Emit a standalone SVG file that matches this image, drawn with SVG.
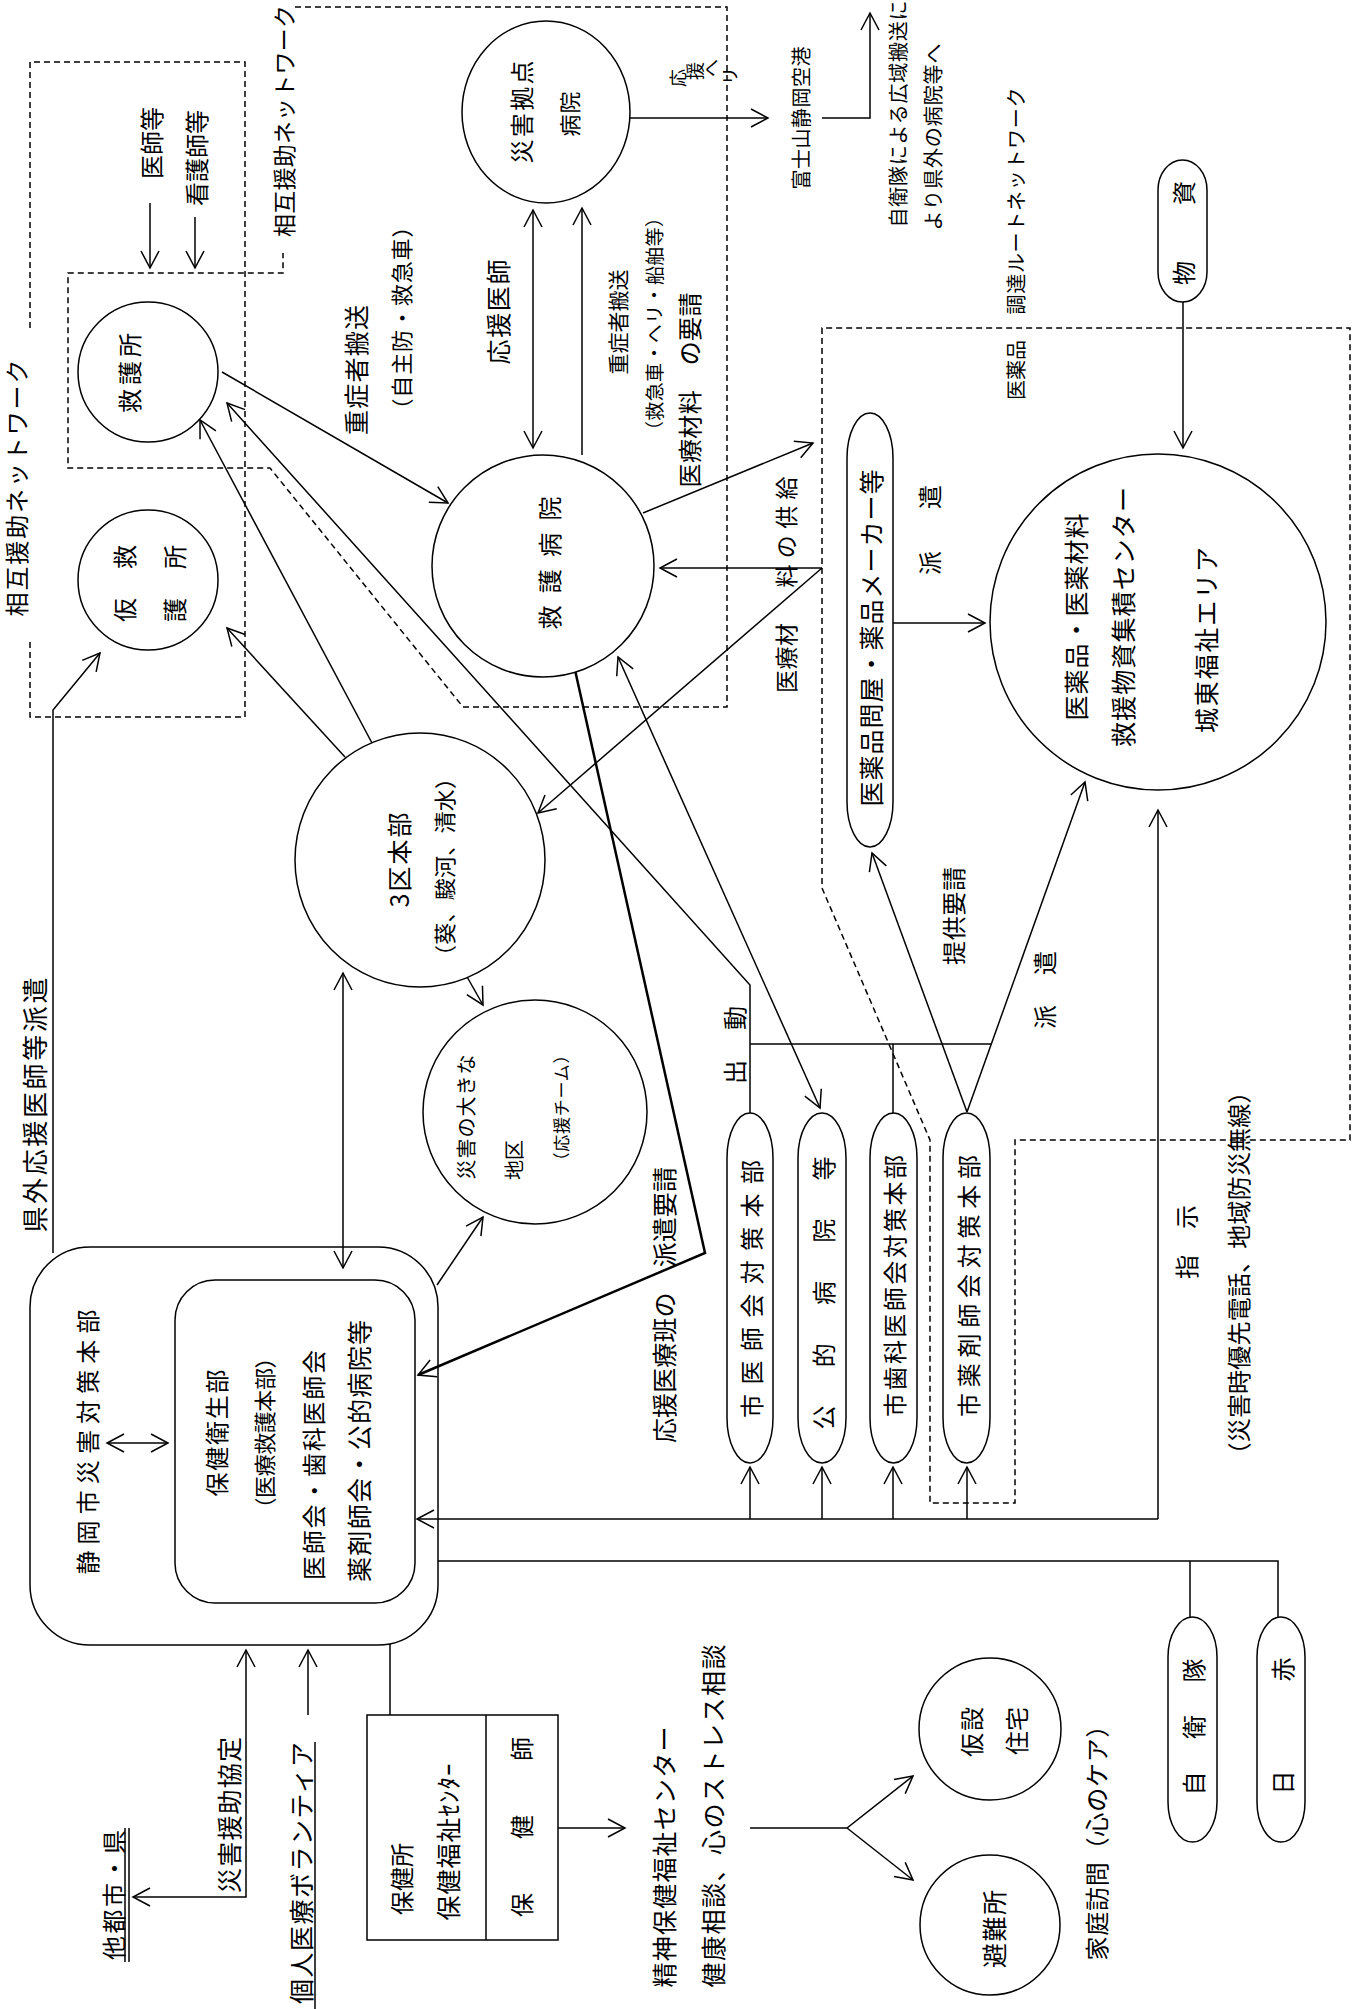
<svg xmlns="http://www.w3.org/2000/svg" width="1364" height="2009" viewBox="0 0 1364 2009">
<style>
.t{font-family:"Noto Sans CJK JP","Noto Sans CJK SC",sans-serif;fill:#000;text-anchor:middle;dominant-baseline:central}
.ln{fill:none;stroke:#000;stroke-width:1.5}
.tk{fill:none;stroke:#000;stroke-width:2.5}
.ds{fill:none;stroke:#000;stroke-width:1.5;stroke-dasharray:6 4}
.nd{fill:#fff;stroke:#000;stroke-width:1.5}
</style>
<defs>
<marker id="ah" markerUnits="userSpaceOnUse" markerWidth="24" markerHeight="24" viewBox="-20 -12 24 24" refX="0" refY="0" orient="auto-start-reverse" overflow="visible">
<path d="M-17,-9 L0,0 L-17,9" fill="none" stroke="#000" stroke-width="1.5"/>
</marker>
</defs>
<rect width="1364" height="2009" fill="#fff"/>

<g id="regions">
<path class="ds" d="M30,328 V62 H245 V717 H30 V638"/>
<path class="ds" d="M295,7 H727 V707 H463 L270,468 H68 V273 H283 V253"/>
<path class="ds" d="M822,328 V888 L930,1140 V1503 H1015 V1140 H1350 V328 Z"/>
</g>

<g id="connectors">
<path class="ln" d="M150,203 V268" marker-end="url(#ah)"/>
<path class="ln" d="M195,217 V268" marker-end="url(#ah)"/>
<path class="ln" d="M222,372 L448,503" marker-end="url(#ah)"/>
<path class="ln" d="M533,210 V448" marker-start="url(#ah)" marker-end="url(#ah)"/>
<path class="ln" d="M582,455 V208" stroke-width="2" marker-end="url(#ah)"/>
<path class="ln" d="M630,118 H768" stroke-width="2" marker-end="url(#ah)"/>
<path class="ln" d="M822,118 H870 V13" stroke-width="2" marker-end="url(#ah)"/>
<path class="ln" d="M1183,302 V448" marker-end="url(#ah)"/>
<path class="ln" d="M643,513 L813,443" marker-end="url(#ah)"/>
<path class="ln" d="M822,568 H660" marker-end="url(#ah)"/>
<path class="ln" d="M822,568 L538,813" marker-end="url(#ah)"/>
<path class="ln" d="M893,623 H985" marker-end="url(#ah)"/>
<path class="ln" d="M53,1253 V710 L100,653" marker-end="url(#ah)"/>
<path class="ln" d="M345,757 L227,628" marker-end="url(#ah)"/>
<path class="ln" d="M372,743 L200,420" marker-end="url(#ah)"/>
<path class="ln" d="M466,975 L483,1005" marker-end="url(#ah)"/>
<path class="ln" d="M343,973 V1268" marker-start="url(#ah)" marker-end="url(#ah)"/>
<path class="ln" d="M437,1285 L483,1217" marker-end="url(#ah)"/>
<path class="ln" d="M750,1113 V985 L227,403" marker-end="url(#ah)"/>
<path class="ln" d="M750,1044 H991"/>
<path class="ln" d="M893,1044 V1113"/>
<path class="ln" d="M967,1112 L872,853" marker-end="url(#ah)"/>
<path class="ln" d="M967,1112 L1085,782" marker-end="url(#ah)"/>
<path class="ln" d="M618,657 L820,1108" marker-start="url(#ah)" marker-end="url(#ah)"/>
<path class="tk" d="M575,670 L705,1253 L418,1375" marker-end="url(#ah)"/>
<path class="ln" d="M1158,1519 H417" marker-end="url(#ah)"/>
<path class="ln" d="M750,1519 V1467" marker-end="url(#ah)"/>
<path class="ln" d="M822,1519 V1467" marker-end="url(#ah)"/>
<path class="ln" d="M893,1519 V1467" marker-end="url(#ah)"/>
<path class="ln" d="M967,1519 V1467" marker-end="url(#ah)"/>
<path class="ln" d="M1158,1519 V810" marker-end="url(#ah)"/>
<path class="ln" d="M438,1561 H1278 V1617 M1190,1561 V1617"/>
<path class="ln" d="M133,1897 H246 V1650" marker-start="url(#ah)" marker-end="url(#ah)"/>
<path class="ln" d="M308,1715 V1650" marker-end="url(#ah)"/>
<path class="ln" d="M390,1644 V1715"/>
<path class="ln" d="M558,1828 H625" marker-end="url(#ah)"/>
<path class="ln" d="M750,1828 H847 L913,1776" marker-end="url(#ah)"/>
<path class="ln" d="M847,1828 L913,1880" marker-end="url(#ah)"/>
<path class="ln" d="M107,1443 H168" marker-start="url(#ah)" marker-end="url(#ah)"/>
<path class="ln" d="M125,1828 V1962 M129,1828 V1962"/>
<path class="ln" d="M315,1742 V2009"/>
</g>

<g id="n-kyugosho">
<circle class="nd" cx="148" cy="372" r="70"/>
<text class="t" font-size="24" textLength="80" lengthAdjust="spacing" transform="translate(128 373) rotate(-90)">救護所</text>
</g>

<g id="n-karikyugosho">
<circle class="nd" cx="148" cy="580" r="70"/>
<text class="t" font-size="24" transform="translate(123 610) rotate(-90)">仮</text>
<text class="t" font-size="24" transform="translate(123 557) rotate(-90)">救</text>
<text class="t" font-size="24" transform="translate(173 610) rotate(-90)">護</text>
<text class="t" font-size="24" transform="translate(173 557) rotate(-90)">所</text>
</g>

<g id="n-saigaikyoten">
<ellipse class="nd" cx="546" cy="112" rx="84" ry="91"/>
<text class="t" font-size="24" textLength="103" lengthAdjust="spacing" transform="translate(520 112) rotate(-90)">災害拠点</text>
<text class="t" font-size="22" textLength="45" lengthAdjust="spacing" transform="translate(568 114) rotate(-90)">病院</text>
</g>

<g id="n-kyugobyoin">
<circle class="nd" cx="543" cy="566" r="111"/>
<text class="t" font-size="24" textLength="133" lengthAdjust="spacing" transform="translate(548 563) rotate(-90)">救護病院</text>
</g>

<g id="n-3ku">
<ellipse class="nd" cx="420" cy="860" rx="125" ry="127"/>
<text class="t" font-size="25" textLength="95" lengthAdjust="spacing" transform="translate(398 860) rotate(-90)">3区本部</text>
<text class="t" font-size="22" textLength="200" lengthAdjust="spacing" transform="translate(443 867) rotate(-90)">（葵、駿河、清水）</text>
</g>

<g id="n-saigaichiku">
<circle class="nd" cx="535" cy="1112" r="112"/>
<text class="t" font-size="20" textLength="125" lengthAdjust="spacing" transform="translate(465 1117) rotate(-90)">災害の大きな</text>
<text class="t" font-size="20" textLength="40" lengthAdjust="spacing" transform="translate(513 1160) rotate(-90)">地区</text>
<text class="t" font-size="17" textLength="123" lengthAdjust="spacing" transform="translate(560 1108) rotate(-90)">（応援チーム）</text>
</g>

<g id="n-shizuoka">
<rect class="ln" x="30" y="1247" width="408" height="398" rx="60"/>
<rect class="ln" x="175" y="1280" width="240" height="323" rx="40"/>
<text class="t" font-size="24" textLength="265" lengthAdjust="spacing" transform="translate(86 1442) rotate(-90)">静岡市災害対策本部</text>
<text class="t" font-size="24" textLength="127" lengthAdjust="spacing" transform="translate(215 1433) rotate(-90)">保健衛生部</text>
<text class="t" font-size="22" textLength="173" lengthAdjust="spacing" transform="translate(263 1433) rotate(-90)">（医療救護本部）</text>
<text class="t" font-size="24" textLength="230" lengthAdjust="spacing" transform="translate(312 1465) rotate(-90)">医師会・歯科医師会</text>
<text class="t" font-size="25" textLength="262" lengthAdjust="spacing" transform="translate(358 1451) rotate(-90)">薬剤師会・公的病院等</text>
</g>

<g id="n-tonya">
<rect class="nd" x="847" y="413" width="46" height="434" rx="23" ry="45"/>
<text class="t" font-size="25" textLength="337" lengthAdjust="spacing" transform="translate(870 638) rotate(-90)">医薬品問屋・薬品メーカー等</text>
</g>

<g id="n-busshi">
<rect class="nd" x="1158" y="160" width="49" height="142" rx="24.5" ry="30"/>
<text class="t" font-size="24" transform="translate(1182 273) rotate(-90)">物</text>
<text class="t" font-size="24" transform="translate(1182 193) rotate(-90)">資</text>
</g>

<g id="n-center">
<circle class="nd" cx="1158" cy="622" r="168"/>
<text class="t" font-size="25" textLength="207" lengthAdjust="spacing" transform="translate(1075 617) rotate(-90)">医薬品・医薬材料</text>
<text class="t" font-size="25" textLength="260" lengthAdjust="spacing" transform="translate(1122 617) rotate(-90)">救援物資集積センター</text>
<text class="t" font-size="25" textLength="186" lengthAdjust="spacing" transform="translate(1205 640) rotate(-90)">城東福祉エリア</text>
</g>

<g id="n-ishikai">
<rect class="nd" x="727" y="1113" width="46" height="350" rx="23" ry="45"/>
<text class="t" font-size="24" textLength="258" lengthAdjust="spacing" transform="translate(750 1289) rotate(-90)">市医師会対策本部</text>
</g>
<g id="n-koteki">
<rect class="nd" x="798" y="1113" width="48" height="350" rx="24" ry="45"/>
<text class="t" font-size="24" textLength="273" lengthAdjust="spacing" transform="translate(822 1293) rotate(-90)">公的病院等</text>
</g>
<g id="n-shika">
<rect class="nd" x="870" y="1113" width="47" height="350" rx="23.5" ry="45"/>
<text class="t" font-size="24" textLength="262" lengthAdjust="spacing" transform="translate(893 1286) rotate(-90)">市歯科医師会対策本部</text>
</g>
<g id="n-yakuzai">
<rect class="nd" x="943" y="1113" width="47" height="350" rx="23.5" ry="45"/>
<text class="t" font-size="24" textLength="262" lengthAdjust="spacing" transform="translate(967 1286) rotate(-90)">市薬剤師会対策本部</text>
</g>

<g id="n-hokensho">
<rect class="nd" x="367" y="1715" width="191" height="225"/>
<path class="ln" d="M486,1715 V1940"/>
<text class="t" font-size="24" textLength="72" lengthAdjust="spacing" transform="translate(400 1879) rotate(-90)">保健所</text>
<text class="t" font-size="25" textLength="157" lengthAdjust="spacing" transform="translate(447 1842) rotate(-90)">保健福祉ｾﾝﾀｰ</text>
<text class="t" font-size="24" textLength="180" lengthAdjust="spacing" transform="translate(520 1827) rotate(-90)">保健師</text>
</g>

<g id="n-kasetsu">
<circle class="nd" cx="990" cy="1729" r="71"/>
<text class="t" font-size="24" textLength="50" lengthAdjust="spacing" transform="translate(970 1732) rotate(-90)">仮設</text>
<text class="t" font-size="24" textLength="48" lengthAdjust="spacing" transform="translate(1015 1731) rotate(-90)">住宅</text>
</g>
<g id="n-hinanjo">
<circle class="nd" cx="990" cy="1925" r="70"/>
<text class="t" font-size="25" textLength="78" lengthAdjust="spacing" transform="translate(993 1929) rotate(-90)">避難所</text>
</g>
<g id="n-jieitai">
<rect class="nd" x="1168" y="1617" width="49" height="225" rx="24.5" ry="40"/>
<text class="t" font-size="24" textLength="137" lengthAdjust="spacing" transform="translate(1192 1727) rotate(-90)">自衛隊</text>
</g>
<g id="n-nisseki">
<rect class="nd" x="1257" y="1617" width="48" height="225" rx="24" ry="40"/>
<text class="t" font-size="24" textLength="137" lengthAdjust="spacing" transform="translate(1281 1726) rotate(-90)">日赤</text>
</g>

<g id="labels">
<text class="t" font-size="24" transform="translate(150 143) rotate(-90)">医師等</text>
<text class="t" font-size="24" transform="translate(195 158) rotate(-90)">看護師等</text>
<text class="t" font-size="23" textLength="232" lengthAdjust="spacing" transform="translate(283 121) rotate(-90)">相互援助ネットワーク</text>
<text class="t" font-size="24" textLength="257" lengthAdjust="spacing" transform="translate(15 488) rotate(-90)">相互援助ネットワーク</text>
<text class="t" font-size="25" textLength="130" lengthAdjust="spacing" transform="translate(355 370) rotate(-90)">重症者搬送</text>
<text class="t" font-size="22" textLength="205" lengthAdjust="spacing" transform="translate(400 318) rotate(-90)">（自主防・救急車）</text>
<text class="t" font-size="18" transform="translate(677 78) rotate(-90)">応</text>
<text class="t" font-size="18" transform="translate(694 71) rotate(-90)">援</text>
<text class="t" font-size="18" transform="translate(710 68) rotate(-90)">へ</text>
<text class="t" font-size="18" transform="translate(729 76) rotate(-90)">リ</text>
<text class="t" font-size="20" textLength="143" lengthAdjust="spacing" transform="translate(800 118) rotate(-90)">富士山静岡空港</text>
<text class="t" font-size="20" textLength="227" lengthAdjust="spacing" transform="translate(897 114) rotate(-90)">自衛隊による広域搬送に</text>
<text class="t" font-size="20" textLength="187" lengthAdjust="spacing" transform="translate(932 137) rotate(-90)">より県外の病院等へ</text>
<text class="t" font-size="25" textLength="105" lengthAdjust="spacing" transform="translate(497 312) rotate(-90)">応援医師</text>
<text class="t" font-size="21" textLength="105" lengthAdjust="spacing" transform="translate(617 322) rotate(-90)">重症者搬送</text>
<text class="t" font-size="19" textLength="232" lengthAdjust="spacing" transform="translate(653 324) rotate(-90)">（救急車・ヘリ・船舶等）</text>
<text class="t" font-size="24" textLength="195" lengthAdjust="spacing" transform="translate(688 390) rotate(-90)">医療材料　の要請</text>
<text class="t" font-size="23" textLength="70" lengthAdjust="spacing" transform="translate(785 658) rotate(-90)">医療材</text>
<text class="t" font-size="23" textLength="111" lengthAdjust="spacing" transform="translate(785 532) rotate(-90)">料の供給</text>
<text class="t" font-size="20" textLength="227" lengthAdjust="spacing" transform="translate(1015 201) rotate(-90)">調達ルートネットワーク</text>
<text class="t" font-size="20" textLength="60" lengthAdjust="spacing" transform="translate(1015 370) rotate(-90)">医薬品</text>
<text class="t" font-size="24" transform="translate(928 563) rotate(-90)">派</text>
<text class="t" font-size="24" transform="translate(928 497) rotate(-90)">遣</text>
<text class="t" font-size="24" textLength="98" lengthAdjust="spacing" transform="translate(952 916) rotate(-90)">提供要請</text>
<text class="t" font-size="24" transform="translate(1043 1017) rotate(-90)">派</text>
<text class="t" font-size="24" transform="translate(1043 963) rotate(-90)">遣</text>
<text class="t" font-size="24" transform="translate(1185 1267) rotate(-90)">指</text>
<text class="t" font-size="24" transform="translate(1185 1217) rotate(-90)">示</text>
<text class="t" font-size="24" textLength="387" lengthAdjust="spacing" transform="translate(1237 1273) rotate(-90)">（災害時優先電話、地域防災無線）</text>
<text class="t" font-size="24" transform="translate(733 1072) rotate(-90)">出</text>
<text class="t" font-size="24" transform="translate(733 1018) rotate(-90)">動</text>
<text class="t" font-size="25" textLength="276" lengthAdjust="spacing" transform="translate(663 1305) rotate(-90)">応援医療班の　派遣要請</text>
<text class="t" font-size="26" textLength="255" lengthAdjust="spacing" transform="translate(33 1105) rotate(-90)">県外応援医師等派遣</text>
<text class="t" font-size="24" textLength="130" lengthAdjust="spacing" transform="translate(112 1895) rotate(-90)">他都市・県</text>
<text class="t" font-size="25" textLength="156" lengthAdjust="spacing" transform="translate(228 1815) rotate(-90)">災害援助協定</text>
<text class="t" font-size="25" textLength="262" lengthAdjust="spacing" transform="translate(300 1873) rotate(-90)">個人医療ボランティア</text>
<text class="t" font-size="25" textLength="261" lengthAdjust="spacing" transform="translate(663 1857) rotate(-90)">精神保健福祉センター</text>
<text class="t" font-size="25" textLength="343" lengthAdjust="spacing" transform="translate(712 1816) rotate(-90)">健康相談、心のストレス相談</text>
<text class="t" font-size="24" textLength="247" lengthAdjust="spacing" transform="translate(1095 1837) rotate(-90)">家庭訪問（心のケア）</text>
</g>
</svg>
